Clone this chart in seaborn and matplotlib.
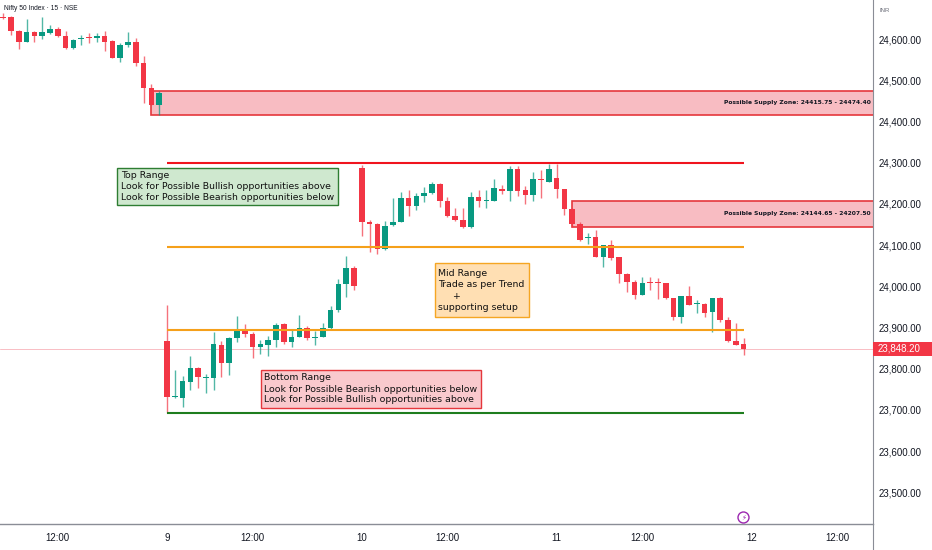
import matplotlib
matplotlib.use("Agg")
import matplotlib.pyplot as plt
import seaborn as sns
import numpy as np
from matplotlib.patches import Rectangle, Circle
from matplotlib.lines import Line2D
from matplotlib.transforms import blended_transform_factory

# -----------------------------
# Data: Nifty 50, 15 min candles
# -----------------------------
opens = [24654, 24653, 24619, 24593, 24617, 24607, 24615, 24625, 24608, 24577,
         24599, 24603, 24602, 24608, 24596, 24553, 24585, 24593, 24543, 24480,
         24439,
         23868, 23731, 23730, 23768, 23802, 23777, 23778, 23857, 23814, 23874,
         23894, 23883, 23852, 23857, 23870, 23908, 23864, 23878, 23898, 23875,
         23877, 23898, 23942, 24005, 24045,
         24286, 24155, 24150, 24090, 24149, 24157, 24215, 24195, 24220, 24227,
         24247, 24208, 24170, 24160, 24144, 24217, 24206, 24208, 24237, 24231,
         24285, 24233, 24221, 24258, 24254,
         24262, 24235, 24187, 24151, 24116, 24119, 24070, 24100, 24070, 24030,
         24011, 23979, 24009, 24009, 24007, 23971, 23926, 23976, 23957, 23956,
         23937, 23972, 23918, 23868, 23859]
highs = [24663, 24655, 24622, 24648, 24620, 24654, 24633, 24630, 24620, 24600,
         24610, 24614, 24614, 24620, 24598, 24590, 24616, 24602, 24559, 24490,
         24474.40,
         23954, 23797, 23782, 23831, 23803, 23787, 23890, 23868, 23878, 23928,
         23908, 23890, 23870, 23879, 23910, 23912, 23895, 23930, 23903, 23891,
         23912, 23952, 24017, 24074, 24049,
         24294, 24161, 24153, 24158, 24213, 24229, 24234, 24226, 24242, 24254,
         24250, 24217, 24189, 24189, 24229, 24234, 24234, 24260, 24246, 24293,
         24293, 24244, 24277, 24282, 24297,
         24297, 24236, 24189, 24157, 24130, 24137, 24100, 24112, 24072, 24031,
         24015, 24022, 24022, 24019, 24009, 23972, 23976, 24001, 23967, 23959,
         23972, 23975, 23926, 23910, 23874]
lows = [24648, 24610, 24575, 24592, 24593, 24601, 24613, 24605, 24576, 24575,
        24585, 24591, 24592, 24571, 24553, 24545, 24581, 24534, 24445, 24439,
        24415.75,
        23692, 23730, 23708, 23748, 23752, 23741, 23748, 23780, 23784, 23865,
        23877, 23825, 23835, 23831, 23852, 23861, 23852, 23876, 23869, 23857,
        23877, 23895, 23938, 23973, 23992,
        24123, 24084, 24078, 24089, 24147, 24156, 24170, 24185, 24205, 24225,
        24192, 24169, 24158, 24141, 24141, 24193, 24189, 24207, 24223, 24207,
        24220, 24200, 24207, 24213, 24252,
        24213, 24173, 24144.65, 24110, 24103, 24070, 24047, 24064, 24007, 23987,
        23968, 23978, 23991, 23968, 23968, 23918, 23910, 23954, 23936, 23926,
        23890, 23914, 23865, 23857, 23833]
closes = [24652, 24619, 24592, 24616, 24607, 24616, 24625, 24608, 24577, 24598,
          24603, 24602, 24608, 24593, 24553, 24585, 24592, 24543, 24480, 24439,
          24468,
          23732, 23733, 23771, 23802, 23779, 23779, 23859, 23814, 23874, 23894,
          23883, 23852, 23860, 23870, 23906, 23865, 23878, 23899, 23874, 23877,
          23899, 23942, 24005, 24045, 24001,
          24157, 24150, 24090, 24147, 24157, 24215, 24195, 24220, 24227, 24247,
          24208, 24170, 24160, 24144, 24217, 24207, 24208, 24238, 24231, 24285,
          24231, 24221, 24260, 24257, 24285,
          24235, 24187, 24150, 24112, 24118, 24070, 24100, 24068, 24030, 24010,
          23979, 24009, 24008, 24007, 23971, 23926, 23976, 23954, 23959, 23936,
          23972, 23918, 23868, 23857, 23848.20]

# x tick positions are candle indices (9:15 of each day = 21, 46, 71, 96)
tick_pos = [7, 21, 32, 46, 57, 71, 82, 96, 107]
tick_labels = ["12:00", "9", "12:00", "10", "12:00", "11", "12:00", "12", "12:00"]
price_ticks = [23500, 23600, 23700, 23800, 23900, 24000, 24100, 24200, 24300,
               24400, 24500, 24600]

zone_starts = [19, 73]
zone_lows = [24415.75, 24144.65]
zone_highs = [24474.40, 24207.50]

range_levels = [24298, 24096, 23894, 23692]
range_colors = ["#f0141e", "#f5a01a", "#f5a01a", "#1e7d1e"]
range_start, range_end = 21, 95

last_price = 23848.20

GREEN = "#089981"
RED = "#f23645"

# -----------------------------
# Figure
# -----------------------------
sns.set_theme(style="white")
plt.rcParams["font.family"] = ["Liberation Sans", "DejaVu Sans"]

fig = plt.figure(figsize=(9.32, 5.5), dpi=100)
W, H = 932, 550
ax = fig.add_axes([0, 26 / H, 873 / W, 524 / H])

o = np.array(opens, dtype=float)
h = np.array(highs, dtype=float)
l = np.array(lows, dtype=float)
c = np.array(closes, dtype=float)
idx = np.arange(len(o))
cols = np.where(c >= o, GREEN, RED)

# supply zones
for s, lo, hi in zip(zone_starts, zone_lows, zone_highs):
    ax.add_patch(Rectangle((s, lo), 200, hi - lo, facecolor="#f8bcc2",
                           edgecolor="#e5373c", lw=1.2, zorder=1))
    ax.text(0.9974, (lo + hi) / 2, f"Possible Supply Zone: {lo:.2f} - {hi:.2f}",
            transform=blended_transform_factory(ax.transAxes, ax.transData),
            ha="right", va="center", fontsize=4.3, fontweight="bold",
            family="DejaVu Sans", color="#131722", zorder=5)

ax.axhline(last_price, color="#f7a1aa", lw=0.7, alpha=0.7, zorder=1)

# candles
ax.vlines(idx, l, h, colors=cols, lw=1.0, alpha=0.7, zorder=2)
body_bot = np.minimum(o, c)
body_h = np.maximum(np.abs(c - o), 2.5)
ax.bar(idx, body_h, bottom=body_bot, width=0.72, color=cols, lw=0, zorder=3)

# range lines
ax.hlines(range_levels, range_start, range_end, colors=range_colors, lw=1.5, zorder=4)

ax.set_xlim(-0.42, 111.6)
ax.set_ylim(23423, 24694.7)

ax.set_xticks(tick_pos)
ax.set_xticklabels(tick_labels)
ax.yaxis.tick_right()
ax.set_yticks(price_ticks)
ax.set_yticklabels([f"{v:,.2f}" for v in price_ticks])
ax.tick_params(axis="x", length=0, pad=6.5, labelsize=7, labelcolor="#131722")
ax.tick_params(axis="y", length=0, pad=4, labelsize=7, labelcolor="#131722")
for side in ["top", "left"]:
    ax.spines[side].set_visible(False)
ax.spines["right"].set_color("#8a8d96")
ax.spines["right"].set_linewidth(0.8)
ax.spines["bottom"].set_color("#8a8d96")
ax.spines["bottom"].set_linewidth(1.0)
ax.grid(False)

# current price label on the price scale
tr = blended_transform_factory(fig.transFigure, ax.transData)
ax.add_patch(Rectangle((873 / W, last_price - 17), 59 / W, 34, transform=tr,
                       facecolor=RED, edgecolor="none", clip_on=False, zorder=6))
ax.text(878 / W, last_price, f"{last_price:,.2f}", transform=tr, ha="left",
        va="center", fontsize=7, color="white", zorder=7)

# -----------------------------
# Annotation overlay in pixel coordinates
# -----------------------------
ov = fig.add_axes([0, 0, 1, 1], zorder=10)
ov.set_xlim(0, W)
ov.set_ylim(H, 0)
ov.axis("off")
ov.patch.set_alpha(0)

ov.add_artist(Line2D([873, 873], [524, 550], color="#8a8d96", lw=0.8))

ov.text(4, 9, "Nifty 50 Index · 15 · NSE", fontsize=4.8, color="#131722",
        ha="left", va="center")
ov.text(879, 10, "INR", fontsize=4.3, color="#6a6d78", ha="left", va="center")

boxes = [
    ((116.5, 168, 338, 205), "#cfe8cf", "#2e7d32", 121, [175.5, 186.3, 197],
     ["Top Range", "Look for Possible Bullish opportunities above",
      "Look for Possible Bearish opportunities below"]),
    ((435, 263, 529.3, 317), "#ffdfb3", "#f5a623", 437.7, [273.7, 284.7, 296.5, 308],
     ["Mid Range", "Trade as per Trend", "     +", "supporting setup"]),
    ((260.5, 370, 481, 408), "#f9c9cd", "#e5373c", 263.5, [378, 389, 400],
     ["Bottom Range", "Look for Possible Bearish opportunities below",
      "Look for Possible Bullish opportunities above"]),
]
for (x0, y0, x1, y1), fc, ec, tx, ys, lines in boxes:
    ov.add_patch(Rectangle((x0, y0), x1 - x0, y1 - y0, facecolor=fc,
                           edgecolor=ec, lw=1.0))
    for yy, txt in zip(ys, lines):
        ov.text(tx, yy, txt, fontsize=6.75, family="DejaVu Sans", color="#111111",
                ha="left", va="center")

ov.add_patch(Circle((743.5, 517.5), 5.5, facecolor="white", edgecolor="#9c27b0", lw=1.0))
ov.text(743.5, 517.8, "⚡", fontsize=5, family="DejaVu Sans", color="#9c27b0",
        ha="center", va="center")

fig.savefig("out.png", dpi=100)
plt.close(fig)
